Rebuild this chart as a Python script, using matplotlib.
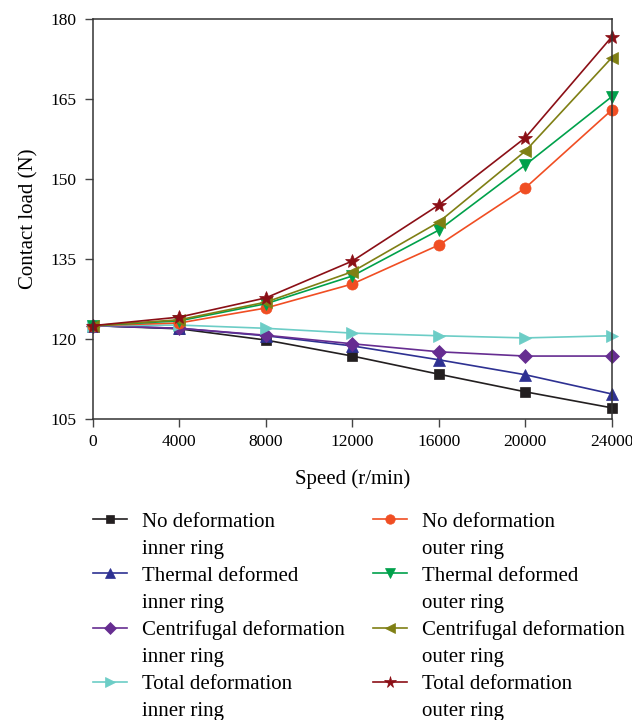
import matplotlib
matplotlib.use("Agg")
import matplotlib.pyplot as plt
from matplotlib.lines import Line2D

speed = [0, 4000, 8000, 12000, 16000, 20000, 24000]

no_def_inner = [122.5, 121.9, 119.8, 116.8, 113.4, 110.1, 107.1]
thermal_inner = [122.5, 122.0, 120.6, 118.7, 116.1, 113.3, 109.7]
centrif_inner = [122.5, 122.0, 120.7, 119.1, 117.6, 116.8, 116.8]
total_inner = [122.5, 122.6, 122.0, 121.1, 120.6, 120.2, 120.6]
no_def_outer = [122.5, 123.0, 125.8, 130.3, 137.6, 148.3, 162.9]
thermal_outer = [122.5, 123.4, 126.6, 131.8, 140.4, 152.6, 165.4]
centrif_outer = [122.5, 123.6, 126.9, 132.6, 141.9, 155.2, 172.7]
total_outer = [122.5, 124.1, 127.7, 134.6, 145.1, 157.7, 176.6]

labels = [
    "No deformation\ninner ring", "No deformation\nouter ring",
    "Thermal deformed\ninner ring", "Thermal deformed\nouter ring",
    "Centrifugal deformation\ninner ring", "Centrifugal deformation\nouter ring",
    "Total deformation\ninner ring", "Total deformation\nouter ring",
]
series = [no_def_inner, no_def_outer, thermal_inner, thermal_outer,
          centrif_inner, centrif_outer, total_inner, total_outer]
colors = ["#231f20", "#f04e23", "#2e3192", "#00a14b",
          "#662d91", "#7f7f14", "#6ccdc6", "#8b0f16"]
markers = ["s", "o", "^", "v", "D", "<", ">", "*"]
msizes = [7, 8, 8, 8, 7, 8, 8, 10]

plt.rcParams['font.family'] = ['Liberation Serif', 'DejaVu Serif']

fig = plt.figure(figsize=(6.32, 7.2), dpi=100)
ax = fig.add_axes([0.147, 0.418, 0.821, 0.556])

order = [0, 2, 4, 6, 1, 3, 5, 7]
handles = {}
for i in order:
    h, = ax.plot(speed, series[i], color=colors[i], marker=markers[i],
                 markersize=msizes[i], linewidth=1.2, label=labels[i],
                 markeredgewidth=0.5, markeredgecolor=colors[i], clip_on=False)
    handles[i] = h

ax.set_xlim(0, 24000)
ax.set_ylim(105, 180)
ax.set_xticks(speed)
ax.set_yticks([105, 120, 135, 150, 165, 180])
ax.tick_params(axis='both', direction='out', length=5.5, width=1, labelsize=12.5,
               color='#444444')
ax.tick_params(axis='y', pad=6)
ax.tick_params(axis='x', pad=5)
for s in ax.spines.values():
    s.set_linewidth(1.1)
    s.set_color('#333333')
ax.set_xlabel("Speed (r/min)", fontsize=15, labelpad=14)
ax.set_ylabel("Contact load (N)", fontsize=15, labelpad=9)


def legend_entries(idx_list):
    hs, ls = [], []
    for i in idx_list:
        first, second = labels[i].split("\n")
        hs.append(handles[i])
        ls.append(first)
        hs.append(Line2D([], [], linestyle='none', marker=None))
        ls.append(second)
    return hs, ls


left_idx = [0, 2, 4, 6]
right_idx = [1, 3, 5, 7]
common = dict(loc='upper left', frameon=False, fontsize=15, handlelength=1.65,
              handletextpad=0.72, labelspacing=0.36, markerscale=0.85,
              borderpad=0, borderaxespad=0)
h1, l1 = legend_entries(left_idx)
fig.legend(h1, l1, bbox_to_anchor=(93 / 632, 0.289), **common)
h2, l2 = legend_entries(right_idx)
fig.legend(h2, l2, bbox_to_anchor=(373 / 632, 0.289), **common)

fig.savefig("out.png", dpi=100)
